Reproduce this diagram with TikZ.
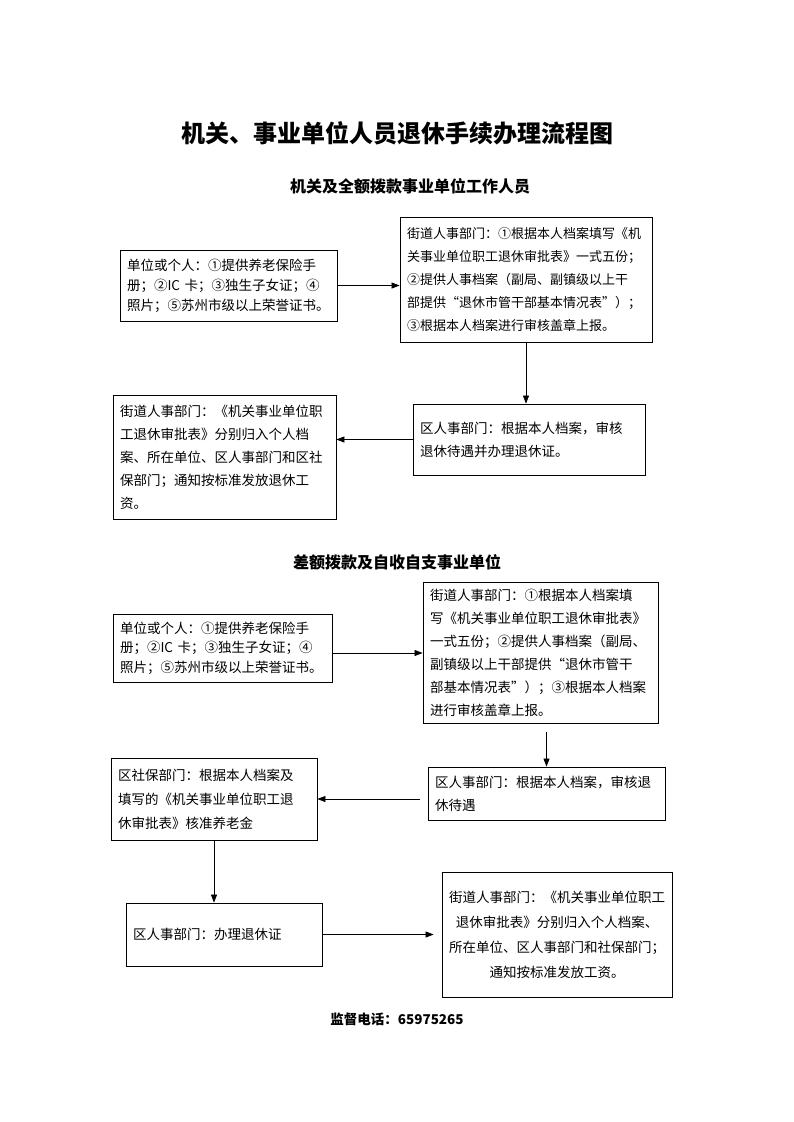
\documentclass[tikz,border=0pt]{standalone}
\usepackage{fontspec}
\usepackage{tikz}
\usetikzlibrary{arrows.meta, positioning}
\newfontfamily\cjk{Noto Sans CJK SC}

\begin{document}
\begin{tikzpicture}[x=1pt, y=-1pt,
    box/.style={rectangle, draw, line width=0.8pt, inner sep=7pt, align=left,
        font=\cjk\fontsize{13.5}{23}\selectfont},
    flow/.style={-{Triangle[length=8pt,width=6pt]}, line width=0.7pt}]
    \useasboundingbox (0,0) rectangle (793,1122);
    % Titles
    \node[font=\cjk\bfseries\fontsize{24}{28}\selectfont] (title) at (397,133) {机关、事业单位人员退休手续办理流程图};
    \node[font=\cjk\bfseries\fontsize{16}{18}\selectfont] (sub1) at (410,186) {机关及全额拨款事业单位工作人员};

    % First flow
    \node[box, minimum width=217, minimum height=71, text width=203,
        font=\cjk\fontsize{13.5}{20}\selectfont] (a1) at (228.5,285.5)
        {单位或个人：①提供养老保险手\\册；②IC 卡；③独生子女证；④\\照片；⑤苏州市级以上荣誉证书。};
    \node[box, minimum width=252, minimum height=125, text width=238,
        font=\cjk\fontsize{13}{23}\selectfont] (a2) at (526,279.5)
        {街道人事部门：①根据本人档案填写《机\\关事业单位职工退休审批表》一式五份；\\②提供人事档案（副局、副镇级以上干\\部提供“退休市管干部基本情况表”）；\\③根据本人档案进行审核盖章上报。};
    \node[box, minimum width=232, minimum height=71, text width=218] (a3) at (529,439.5)
        {区人事部门：根据本人档案，审核\\退休待遇并办理退休证。};
    \node[box, minimum width=223, minimum height=124, text width=209] (a4) at (224.5,457)
        {街道人事部门：《机关事业单位职\\工退休审批表》分别归入个人档\\案、所在单位、区人事部门和区社\\保部门；通知按标准发放退休工\\资。};

    % Draw connections
    \draw[flow] (a1.east) -- (a1.east -| a2.west);
    \draw[flow] (a2.south) -- (a2.south |- a3.north);
    \draw[flow] (a3.west) -- (a3.west -| a4.east);

    \node[font=\cjk\bfseries\fontsize{16}{18}\selectfont] (sub2) at (397,562) {差额拨款及自收自支事业单位};

    % Second flow
    \node[box, minimum width=219, minimum height=68, text width=205,
        font=\cjk\fontsize{13.5}{19.5}\selectfont] (b1) at (222.5,648)
        {单位或个人：①提供养老保险手\\册；②IC 卡；③独生子女证；④\\照片；⑤苏州市级以上荣誉证书。};
    \node[box, minimum width=235, minimum height=134, text width=221] (b2) at (540.5,653)
        {街道人事部门：①根据本人档案填\\写《机关事业单位职工退休审批表》\\一式五份；②提供人事档案（副局、\\副镇级以上干部提供“退休市管干\\部基本情况表”）；③根据本人档案\\进行审核盖章上报。};
    \node[box, minimum width=237, minimum height=53, text width=223] (b3) at (546.5,793.5)
        {区人事部门：根据本人档案，审核退\\休待遇};
    \node[box, minimum width=206, minimum height=82, text width=192,
        font=\cjk\fontsize{13.5}{24}\selectfont] (b4) at (214,799)
        {区社保部门：根据本人档案及\\填写的《机关事业单位职工退\\休审批表》核准养老金};
    \node[box, minimum width=196, minimum height=63, text width=182] (b5) at (224,934.5)
        {区人事部门：办理退休证};
    \node[box, minimum width=230, minimum height=125, text width=216, align=center,
        font=\cjk\fontsize{13.5}{25}\selectfont] (b6) at (557,934.5)
        {街道人事部门：《机关事业单位职工\\退休审批表》分别归入个人档案、\\所在单位、区人事部门和社保部门；\\通知按标准发放工资。};

    \draw[flow] (b2.west -| b1.east) -- (b2.west);
    \draw[flow, shorten <=8pt] (b3.north |- b2.south) -- (b3.north);
    \draw[flow, shorten <=8pt] (b4.east -| b3.west) -- (b4.east);
    \draw[flow] (b4.south) -- (b4.south |- b5.north);
    \draw[flow, shorten >=8pt] (b5.east) -- (b5.east -| b6.west);

    \node[font=\cjk\bfseries\fontsize{13.5}{16}\selectfont] (phone) at (397,1019) {监督电话：65975265};
\end{tikzpicture}
\end{document}
